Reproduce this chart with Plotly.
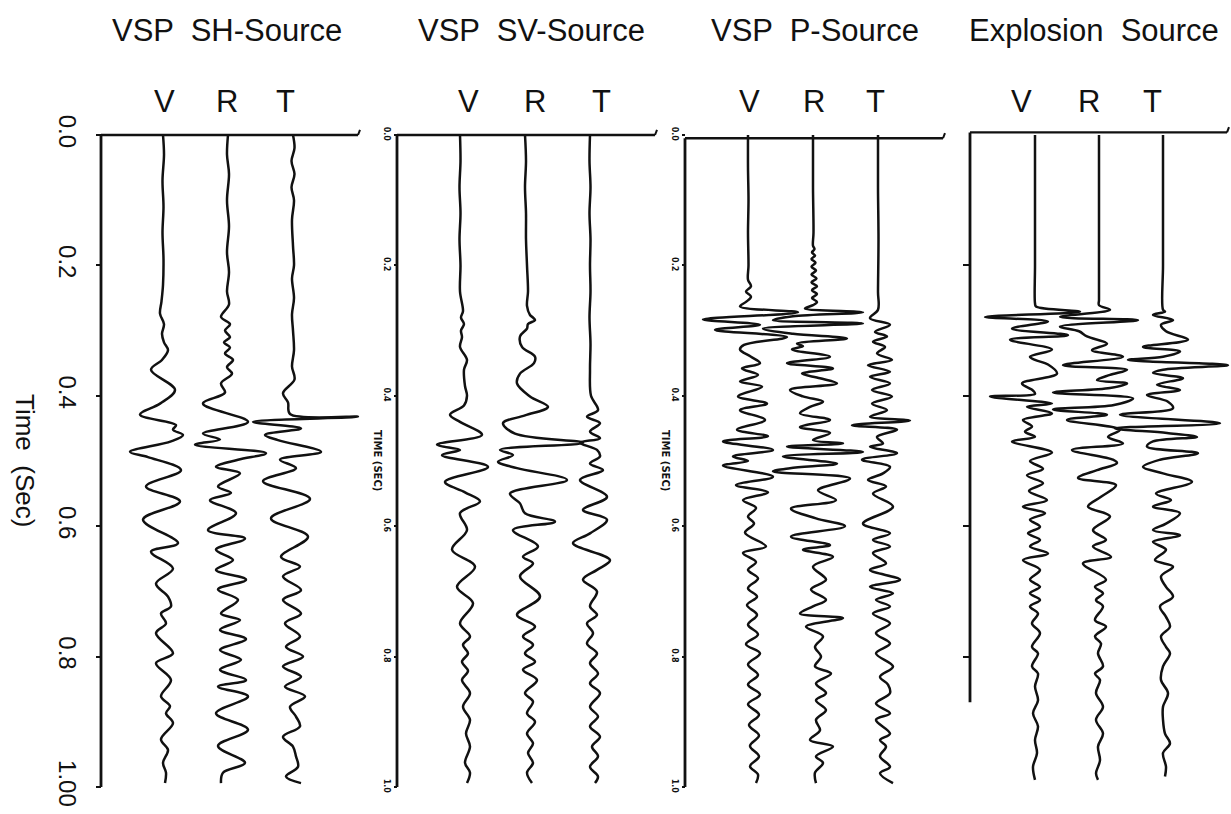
import plotly.graph_objects as go

# ---------------------------------------------------------------------------
# Three-component VSP seismograms (V, R, T) for four source types.
# Each trace is stored as [time (s), deflection] pairs at its turning points.
# ---------------------------------------------------------------------------

TITLES = ["VSP  SH-Source", "VSP  SV-Source", "VSP  P-Source", "Explosion  Source"]
COMPONENTS = ["V", "R", "T"]
TICK_VALUES = [0.0, 0.2, 0.4, 0.6, 0.8, 1.0]
TICK_TEXT_MAIN = ["0.0", "0.2", "0.4", "0.6", "0.8", "1.00"]
TICK_TEXT_SMALL = ["0.0", "0.2", "0.4", "0.6", "0.8", "1.0"]
TICK_VALUES_EXPL = [0.2, 0.4, 0.6, 0.8]

# --- SH source ---
SH_V = [[0, 0], [0.03, 1], [0.07, -0.5], [0.11, 0.5], [0.15, -0.5], [0.19, 0.5], [0.23, 0],
        [0.255, -1.5], [0.274, -3], [0.29, 1], [0.305, -1], [0.318, 1], [0.33, 5], [0.345, -1],
        [0.36, -12], [0.391, 12], [0.412, -3], [0.429, -23], [0.445, 13], [0.452, 10], [0.46, 20],
        [0.47, 8], [0.486, -33], [0.494, -15], [0.514, 18], [0.539, -17], [0.562, 17], [0.59, -20],
        [0.626, 15], [0.639, -12], [0.665, 10], [0.688, -7], [0.708, 5], [0.723, 8], [0.734, -2],
        [0.749, 3], [0.764, -7], [0.795, 10], [0.81, -7], [0.836, 8], [0.861, -2], [0.876, 7],
        [0.887, 3], [0.902, 10], [0.927, -2], [0.943, 5], [0.963, 0], [0.978, 3], [0.994, 2]]
SH_R = [[0, 0], [0.03, -1], [0.06, 1], [0.10, -1], [0.14, 1], [0.18, -1], [0.21, 1], [0.24, -1],
        [0.26, 1], [0.279, -7], [0.29, 2], [0.30, -3], [0.31, 2], [0.318, -4], [0.326, 2],
        [0.335, -3], [0.345, 5], [0.356, -1], [0.366, 4], [0.381, -7], [0.395, -3], [0.412, -25],
        [0.44, 20], [0.458, -25], [0.467, -8], [0.475, -33], [0.488, 38], [0.498, 10], [0.509, -12],
        [0.519, 12], [0.539, -10], [0.549, 3], [0.56, -18], [0.58, 8], [0.606, -20], [0.619, 17],
        [0.636, -12], [0.652, 5], [0.667, -12], [0.682, 18], [0.697, -10], [0.713, 10], [0.734, -7],
        [0.744, 12], [0.759, -8], [0.773, 18], [0.79, -8], [0.805, 13], [0.82, -8], [0.836, 18],
        [0.846, -10], [0.861, 20], [0.887, -12], [0.912, 20], [0.937, -10], [0.963, 17],
        [0.978, -5], [0.994, -7]]
SH_T = [[0, 0], [0.02, 1.5], [0.04, -1.5], [0.06, 1.5], [0.08, -1.5], [0.10, 1], [0.13, -1],
        [0.17, 0], [0.20, 1], [0.22, -1], [0.25, 1], [0.275, -1], [0.30, 0], [0.33, 1], [0.355, -1],
        [0.375, 1.5], [0.396, -10], [0.41, -5], [0.428, -3], [0.432, 65], [0.44, -40], [0.45, 8],
        [0.46, -28], [0.468, -15], [0.486, 28], [0.498, -13], [0.511, 3], [0.531, -30], [0.558, 17],
        [0.588, -22], [0.616, 15], [0.647, -12], [0.662, 7], [0.677, -10], [0.698, 8], [0.713, -10],
        [0.734, 8], [0.749, -8], [0.769, 7], [0.785, -7], [0.80, 10], [0.815, -10], [0.831, 8],
        [0.846, -8], [0.861, 12], [0.877, -3], [0.892, 3], [0.907, 7], [0.923, -10], [0.938, 0],
        [0.953, 3], [0.969, 5], [0.984, -7], [0.994, 8]]

# --- SV source ---
SV_V = [[0, 0], [0.04, 0.5], [0.08, -0.5], [0.12, 0.5], [0.16, -0.5], [0.20, 0.5], [0.24, 0],
        [0.27, 3], [0.28, 1], [0.29, 4], [0.30, 1], [0.31, 2], [0.325, 0], [0.345, 7], [0.36, 4],
        [0.385, 5], [0.40, 7], [0.415, 4], [0.429, -10], [0.44, 0], [0.46, 22], [0.475, -23],
        [0.483, 0], [0.491, -18], [0.509, 28], [0.532, -15], [0.548, 5], [0.562, 20], [0.58, 0],
        [0.606, 7], [0.636, -8], [0.662, 15], [0.693, -3], [0.718, 13], [0.749, 0], [0.769, 10],
        [0.782, 3], [0.795, 8], [0.808, 2], [0.822, 8], [0.836, 2], [0.856, 10], [0.877, 3],
        [0.897, 10], [0.918, 6], [0.938, 10], [0.963, 5], [0.978, 10], [0.994, 7]]
SV_R = [[0, 0], [0.04, 1], [0.08, 0], [0.12, 1], [0.16, 1], [0.20, 2], [0.24, 3], [0.262, 2],
        [0.276, 5], [0.28, 8], [0.284, 10], [0.29, 3], [0.297, 2], [0.309, -5], [0.325, -3],
        [0.34, 10], [0.35, 9], [0.366, -5], [0.381, -8], [0.401, 5], [0.417, 23], [0.43, 0],
        [0.442, -22], [0.458, -10], [0.472, 58], [0.483, -25], [0.491, -12], [0.501, -27],
        [0.511, -8], [0.529, 42], [0.55, -15], [0.565, -5], [0.58, 0], [0.593, 30], [0.606, -12],
        [0.631, 13], [0.647, -2], [0.657, 8], [0.677, -5], [0.708, 15], [0.736, -8], [0.754, 10],
        [0.769, -2], [0.782, 8], [0.795, 0], [0.808, 10], [0.82, -2], [0.836, 12], [0.856, 0],
        [0.869, 8], [0.887, 2], [0.90, 10], [0.918, 2], [0.933, 8], [0.948, 3], [0.963, 8],
        [0.978, 2], [0.994, 7]]
SV_T = [[0, 0], [0.04, -0.5], [0.08, 0.5], [0.12, -0.5], [0.16, 0.5], [0.20, 0], [0.24, 0.5],
        [0.28, -0.5], [0.32, 0.5], [0.36, 0], [0.40, 1], [0.422, 8], [0.432, -3], [0.442, 10],
        [0.455, 0], [0.465, 10], [0.472, -10], [0.483, 7], [0.493, 10], [0.504, 0], [0.514, 13],
        [0.529, -10], [0.555, 17], [0.575, -7], [0.59, 17], [0.611, 0], [0.626, -17], [0.652, 20],
        [0.667, 7], [0.682, -7], [0.70, 7], [0.723, 0], [0.736, 7], [0.749, -3], [0.764, 3],
        [0.78, -3], [0.795, 7], [0.81, 0], [0.826, 8], [0.841, 0], [0.856, 10], [0.877, 0],
        [0.892, 8], [0.907, 0], [0.923, 10], [0.938, 2], [0.953, 8], [0.969, 0], [0.984, 8],
        [0.994, 5]]

# --- P source ---
P_V = [[0, 0], [0.05, 0], [0.10, 0.5], [0.15, 0], [0.20, 0.5], [0.222, 0], [0.232, 3],
       [0.24, -2], [0.248, 3], [0.256, -2], [0.263, -8], [0.272, 50], [0.283, -45], [0.291, 12],
       [0.299, -33], [0.31, 39], [0.322, -4], [0.329, -8], [0.34, 3], [0.35, 12], [0.358, -6],
       [0.368, 10], [0.378, -8], [0.386, 14], [0.401, -10], [0.412, 19], [0.422, -8], [0.437, 17],
       [0.452, -11], [0.462, 20], [0.47, -25], [0.483, 25], [0.493, -15], [0.50, 0], [0.507, -25],
       [0.524, 25], [0.537, -12], [0.548, 20], [0.56, -5], [0.572, 8], [0.585, 0], [0.596, 6],
       [0.61, -3], [0.631, 18], [0.641, -5], [0.655, 8], [0.667, 0], [0.68, 10], [0.695, 0],
       [0.708, 9], [0.721, -1], [0.736, 9], [0.751, 0], [0.766, 10], [0.781, -2], [0.795, 12],
       [0.812, 0], [0.828, 10], [0.843, 0], [0.858, 12], [0.873, 0], [0.889, 11], [0.905, 1],
       [0.921, 11], [0.937, 2], [0.953, 11], [0.968, 2], [0.981, 10], [0.994, 8]]
P_R = [[0, 0], [0.08, 0], [0.15, 0.5], [0.17, 0], [0.175, 1.5], [0.18, -1], [0.185, 2],
       [0.19, -1.5], [0.196, 2.5], [0.202, -1.5], [0.208, 3], [0.214, -1.5], [0.22, 3.5],
       [0.226, -1.5], [0.232, 4], [0.238, -1], [0.244, 4], [0.25, -1], [0.256, 4], [0.261, 0],
       [0.266, -8], [0.272, 50], [0.278, -20], [0.284, -40], [0.289, 50], [0.297, -50],
       [0.305, -20], [0.312, 34], [0.32, -16], [0.324, -10], [0.329, -21], [0.34, 17],
       [0.35, -26], [0.358, 20], [0.366, -11], [0.373, 7], [0.381, 24], [0.391, -23], [0.401, -10],
       [0.409, 10], [0.417, -3], [0.427, -13], [0.437, 17], [0.448, -13], [0.457, 17], [0.468, 0],
       [0.473, 30], [0.478, -26], [0.486, 50], [0.493, -30], [0.504, 24], [0.511, -23],
       [0.516, -40], [0.527, 37], [0.545, 5], [0.56, 23], [0.573, -22], [0.588, 3], [0.60, 32],
       [0.616, -22], [0.629, 17], [0.636, -10], [0.647, 20], [0.662, 0], [0.682, 13], [0.697, -2],
       [0.713, 13], [0.723, 0], [0.734, -13], [0.741, 30], [0.754, -7], [0.769, 10], [0.785, 2],
       [0.80, 8], [0.815, 2], [0.826, 18], [0.841, 3], [0.856, 13], [0.867, 3], [0.882, 13],
       [0.897, 3], [0.913, 7], [0.928, -3], [0.938, 20], [0.953, 3], [0.963, 10], [0.978, 2],
       [0.994, 3]]
P_T = [[0, 0], [0.08, 0], [0.16, 0.5], [0.24, 0], [0.268, 0], [0.281, -8], [0.291, 12],
       [0.302, -3], [0.309, 9], [0.317, -5], [0.325, 7], [0.335, -1], [0.345, 14], [0.353, -10],
       [0.363, 12], [0.371, -8], [0.381, 12], [0.391, -6], [0.401, 14], [0.412, -6], [0.422, 9],
       [0.432, -8], [0.438, 32], [0.445, -26], [0.452, 19], [0.463, -1], [0.473, 5], [0.478, -8],
       [0.488, 19], [0.498, -16], [0.509, 12], [0.519, 5], [0.529, -10], [0.539, 8], [0.55, -5],
       [0.57, 15], [0.596, -15], [0.611, 12], [0.621, -5], [0.631, 12], [0.641, -5], [0.657, 8],
       [0.667, -8], [0.682, 22], [0.693, -8], [0.703, 15], [0.713, -2], [0.723, 12], [0.734, -5],
       [0.749, 12], [0.764, -2], [0.78, 12], [0.795, -2], [0.815, 15], [0.831, 2], [0.843, 10],
       [0.856, 12], [0.872, -2], [0.887, 12], [0.897, -2], [0.918, 12], [0.928, 2], [0.938, 8],
       [0.953, 2], [0.969, 12], [0.979, 2], [0.994, 15]]

# --- Explosion source ---
EX_V = [[0, 0], [0.10, 0], [0.20, 0], [0.258, 0], [0.263, 1], [0.271, 45], [0.279, -50],
        [0.286, 13], [0.297, -23], [0.307, 33], [0.314, -25], [0.329, 17], [0.34, -5], [0.345, 0],
        [0.352, 13], [0.366, 22], [0.381, -13], [0.392, -2], [0.397, 0], [0.401, -45], [0.412, 17],
        [0.417, -8], [0.427, 17], [0.437, -12], [0.447, -3], [0.455, -10], [0.463, 0], [0.47, -23],
        [0.487, 17], [0.50, -5], [0.512, 8], [0.522, -8], [0.534, 8], [0.546, -6], [0.56, 12],
        [0.57, -12], [0.58, 10], [0.59, -5], [0.601, 5], [0.611, -7], [0.621, 5], [0.631, -5],
        [0.642, 13], [0.652, -12], [0.667, 5], [0.682, -5], [0.693, 5], [0.703, -5], [0.713, 5],
        [0.723, -5], [0.734, 3], [0.749, -3], [0.764, 5], [0.785, -3], [0.795, 3], [0.815, -3],
        [0.826, 3], [0.846, 0], [0.867, 3], [0.887, -2], [0.907, 3], [0.928, 0], [0.948, 2],
        [0.969, -2], [0.989, 0]]
EX_R = [[0, 0], [0.10, 0], [0.20, 0], [0.253, 0], [0.261, 0], [0.268, 11], [0.279, -39],
        [0.284, 39], [0.294, -39], [0.301, -20], [0.309, -12], [0.32, 8], [0.33, -7], [0.34, 24],
        [0.353, -36], [0.36, 28], [0.368, 11], [0.376, -2], [0.381, 28], [0.388, 11], [0.395, -46],
        [0.404, 34], [0.414, 15], [0.421, -46], [0.429, 8], [0.437, -32], [0.452, 21], [0.463, 9],
        [0.473, 24], [0.483, -27], [0.498, 14], [0.503, 18], [0.514, -2], [0.526, -21],
        [0.537, 17], [0.555, 2], [0.57, -11], [0.585, 11], [0.606, -6], [0.621, 7], [0.631, -6],
        [0.647, 12], [0.657, -16], [0.682, 7], [0.693, -4], [0.703, 4], [0.713, -3], [0.723, 4],
        [0.744, -4], [0.754, 7], [0.769, -4], [0.78, 2], [0.795, -1], [0.815, 4], [0.826, -4],
        [0.836, 1], [0.856, -3], [0.877, 4], [0.897, -3], [0.918, 4], [0.938, -1], [0.959, 1],
        [0.979, -3], [0.989, -1]]
EX_T = [[0, 0], [0.10, 0], [0.20, 0], [0.268, 0], [0.271, 2], [0.276, -10], [0.284, 10],
        [0.291, -2], [0.301, 3], [0.314, 25], [0.325, -20], [0.332, 17], [0.34, 0], [0.345, -35],
        [0.353, 65], [0.36, 0], [0.365, -10], [0.373, 20], [0.383, -6], [0.391, 17], [0.399, -16],
        [0.409, 5], [0.419, 10], [0.429, -43], [0.442, 57], [0.45, -48], [0.457, 4], [0.463, 34],
        [0.47, -10], [0.478, -16], [0.488, 35], [0.498, -3], [0.509, -20], [0.519, 0], [0.532, 29],
        [0.55, -7], [0.56, 8], [0.57, -10], [0.58, 17], [0.596, 3], [0.606, -10], [0.614, 17],
        [0.624, -10], [0.636, 3], [0.652, -8], [0.662, 10], [0.677, -2], [0.693, 3], [0.708, 10],
        [0.723, -3], [0.739, 3], [0.754, 7], [0.769, -2], [0.785, 3], [0.795, 7], [0.815, 0],
        [0.836, -2], [0.856, 5], [0.877, 0], [0.897, 0], [0.918, 2], [0.933, 7], [0.948, 0],
        [0.969, 3], [0.984, 2]]

PANEL_TRACES = [[SH_V, SH_R, SH_T], [SV_V, SV_R, SV_T], [P_V, P_R, P_T], [EX_V, EX_R, EX_T]]

# ---------------------------------------------------------------------------
# Page geometry (pixels) and styling
# ---------------------------------------------------------------------------
W, H = 1231, 814
TOP_PX, PX_PER_S = 135, 652          # time 0 row and vertical scale
AXIS_X = [101, 397, 685, 970]         # left time axis of each panel
AXIS_END = [1.0, 1.0, 1.0, 0.87]      # where each time axis stops
TOP_T = [0.0, 0.0, 0.005, -0.004]     # level of each panel's top rule
TOPLINE_END_X = [358, 655, 943, 1227]
TRACE_X = [[163, 228, 293], [460, 525, 590], [748, 813, 878], [1035, 1099, 1163]]
TITLE_X = [227, 531, 815, 1094]
COMP_X = [[164, 227, 285], [468, 535, 601], [749, 814, 875], [1021, 1089, 1152]]
TITLE_Y_PX, COMP_Y_PX = 30, 102
GAIN = 1.0
INK = "#111111"
FONT = "Liberation Sans, Arial, Helvetica, sans-serif"

t_top = -TOP_PX / PX_PER_S
t_bottom = (H - TOP_PX) / PX_PER_S


def paper_y(px):
    return 1 - px / H


fig = go.Figure()

axis_names = ["y", "y2", "y3", "y4"]
for p, traces in enumerate(PANEL_TRACES):
    for c, pairs in enumerate(traces):
        t = [row[0] for row in pairs]
        x = [TRACE_X[p][c] + GAIN * row[1] for row in pairs]
        fig.add_trace(go.Scatter(
            x=x, y=t, mode="lines", yaxis=axis_names[p],
            line=dict(color=INK, width=2.5, shape="spline", smoothing=1.0),
            hoverinfo="skip", showlegend=False,
        ))

base_axis = dict(range=[t_bottom, t_top], showgrid=False, zeroline=False, showline=False,
                 anchor="free", tickvals=TICK_VALUES, tickangle=90, ticks="outside",
                 tickcolor=INK, tickwidth=2)

small_tick_font = dict(family="DejaVu Sans, sans-serif", size=8, color=INK, weight="bold")
layout_axes = {
    "yaxis": dict(base_axis, position=AXIS_X[0] / W, ticktext=TICK_TEXT_MAIN, ticklen=5,
                  tickfont=dict(family=FONT, size=24, color=INK), ticklabelstandoff=8),
    "yaxis2": dict(base_axis, overlaying="y", position=AXIS_X[1] / W, ticktext=TICK_TEXT_SMALL,
                   ticklen=3, tickfont=small_tick_font),
    "yaxis3": dict(base_axis, overlaying="y", position=AXIS_X[2] / W, ticktext=TICK_TEXT_SMALL,
                   ticklen=3, tickfont=small_tick_font),
    "yaxis4": dict(base_axis, overlaying="y", position=AXIS_X[3] / W, tickvals=TICK_VALUES_EXPL,
                   showticklabels=False, ticklen=7),
}

shapes = []
for p in range(4):
    # vertical time axis
    shapes.append(dict(type="line", xref="x", yref="y", x0=AXIS_X[p], x1=AXIS_X[p],
                       y0=TOP_T[p], y1=AXIS_END[p], line=dict(color=INK, width=2.8)))
    # top rule with the small upturned end
    shapes.append(dict(type="line", xref="x", yref="y", x0=AXIS_X[p], x1=TOPLINE_END_X[p],
                       y0=TOP_T[p], y1=TOP_T[p], line=dict(color=INK, width=2.4)))
    shapes.append(dict(type="line", xref="x", yref="y", x0=TOPLINE_END_X[p], x1=TOPLINE_END_X[p] + 2,
                       y0=TOP_T[p], y1=TOP_T[p] - 0.008, line=dict(color=INK, width=2)))

annotations = []
for p in range(4):
    annotations.append(dict(text=TITLES[p], x=TITLE_X[p], xref="x", y=paper_y(TITLE_Y_PX),
                            yref="paper", showarrow=False, xanchor="center", yanchor="middle",
                            font=dict(family=FONT, size=31, color=INK)))
    for c in range(3):
        annotations.append(dict(text=COMPONENTS[c], x=COMP_X[p][c], xref="x", y=paper_y(COMP_Y_PX),
                                yref="paper", showarrow=False, xanchor="center", yanchor="middle",
                                font=dict(family=FONT, size=31, color=INK)))

annotations.append(dict(text="Time  (Sec)", x=25, xref="x", y=paper_y(460), yref="paper",
                        textangle=90, showarrow=False, xanchor="center", yanchor="middle",
                        font=dict(family=FONT, size=26, color=INK)))
for ax_x in (AXIS_X[1], AXIS_X[2]):
    annotations.append(dict(text="<b>TIME (SEC)</b>", x=ax_x - 19, xref="x", y=paper_y(460),
                            yref="paper", textangle=90, showarrow=False, xanchor="center",
                            yanchor="middle", font=dict(family="DejaVu Sans, sans-serif", size=10,
                                                        color=INK)))

fig.update_layout(
    width=W, height=H, margin=dict(l=0, r=0, t=0, b=0),
    paper_bgcolor="white", plot_bgcolor="white",
    xaxis=dict(range=[0, W], visible=False, domain=[0, 1]),
    shapes=shapes, annotations=annotations, showlegend=False,
    **layout_axes,
)

fig.write_html("out.html")
